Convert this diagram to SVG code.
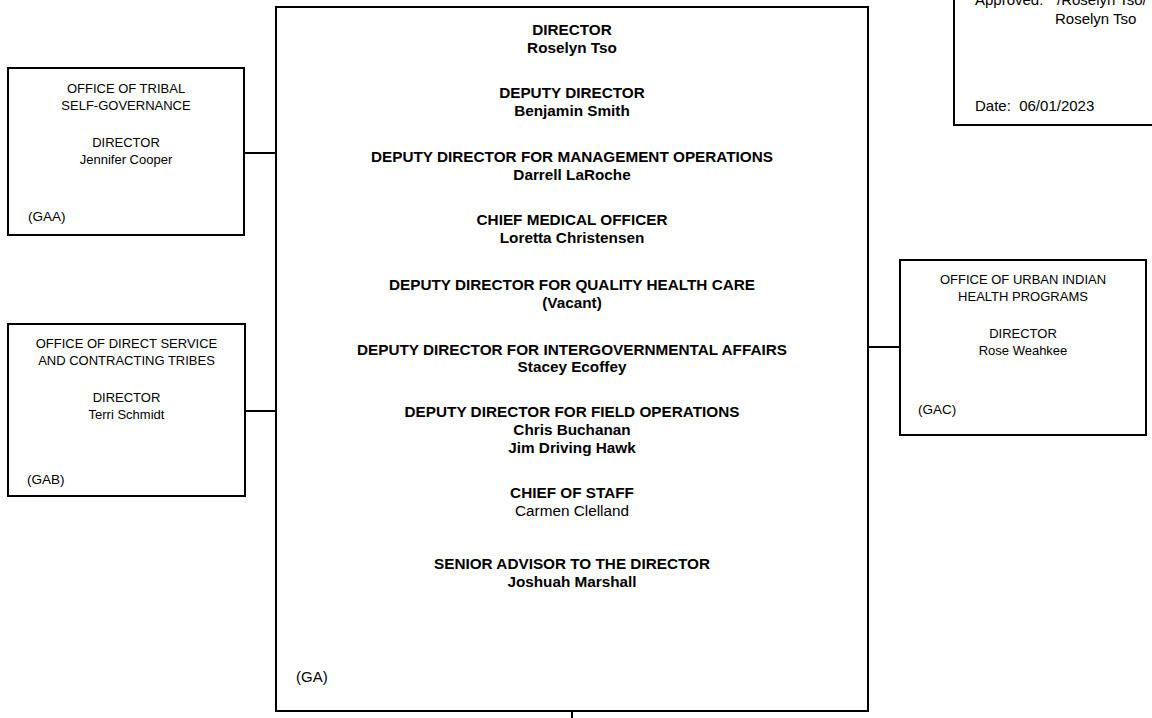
<svg xmlns="http://www.w3.org/2000/svg" width="1152" height="718" viewBox="0 0 1152 718">
<style>
.box{fill:#fff;stroke:#000;stroke-width:2}
.ln{fill:none;stroke:#000;stroke-width:2}
text{font-family:"Liberation Sans",Arial,sans-serif;fill:#000}
.m{font-size:15.3px;font-weight:bold;text-anchor:middle}
.mr{font-size:15.3px;text-anchor:middle}
.s{font-size:13px;text-anchor:middle}
.c{font-size:13.5px}
.a{font-size:15px}
</style>
<rect width="1152" height="718" fill="#fff"/>
<g id="connectors">
<line class="ln" x1="244" y1="153" x2="276" y2="153"/>
<line class="ln" x1="245" y1="411" x2="276" y2="411"/>
<line class="ln" x1="868" y1="347" x2="900" y2="347"/>
<line class="ln" x1="572" y1="711" x2="572" y2="718"/>
</g>
<g id="approval">
<rect class="box" x="954" y="-20" width="220" height="145"/>
<text class="a" x="975" y="5">Approved:</text>
<text class="a" x="1057" y="5">/Roselyn Tso/</text>
<text class="a" x="1055" y="24">Roselyn Tso</text>
<text class="a" x="975" y="111" xml:space="preserve">Date:  06/01/2023</text>
</g>
<g id="main">
<rect class="box" x="276" y="7" width="592" height="704"/>
<text class="m" x="572" y="35">DIRECTOR</text>
<text class="m" x="572" y="53">Roselyn Tso</text>
<text class="m" x="572" y="98">DEPUTY DIRECTOR</text>
<text class="m" x="572" y="116">Benjamin Smith</text>
<text class="m" x="572" y="162">DEPUTY DIRECTOR FOR MANAGEMENT OPERATIONS</text>
<text class="m" x="572" y="180">Darrell LaRoche</text>
<text class="m" x="572" y="225">CHIEF MEDICAL OFFICER</text>
<text class="m" x="572" y="243">Loretta Christensen</text>
<text class="m" x="572" y="290">DEPUTY DIRECTOR FOR QUALITY HEALTH CARE</text>
<text class="m" x="572" y="308">(Vacant)</text>
<text class="m" x="572" y="355">DEPUTY DIRECTOR FOR INTERGOVERNMENTAL AFFAIRS</text>
<text class="m" x="572" y="372">Stacey Ecoffey</text>
<text class="m" x="572" y="417">DEPUTY DIRECTOR FOR FIELD OPERATIONS</text>
<text class="m" x="572" y="435">Chris Buchanan</text>
<text class="m" x="572" y="453">Jim Driving Hawk</text>
<text class="m" x="572" y="498">CHIEF OF STAFF</text>
<text class="mr" x="572" y="516">Carmen Clelland</text>
<text class="m" x="572" y="569">SENIOR ADVISOR TO THE DIRECTOR</text>
<text class="m" x="572" y="587">Joshuah Marshall</text>
<text class="a" x="296" y="682">(GA)</text>
</g>
<g id="gaa">
<rect class="box" x="8" y="68" width="236" height="167"/>
<text class="s" x="126" y="93">OFFICE OF TRIBAL</text>
<text class="s" x="126" y="110">SELF-GOVERNANCE</text>
<text class="s" x="126" y="147">DIRECTOR</text>
<text class="s" x="126" y="164">Jennifer Cooper</text>
<text class="c" x="28" y="221">(GAA)</text>
</g>
<g id="gab">
<rect class="box" x="8" y="324" width="237" height="172"/>
<text class="s" x="126.5" y="348">OFFICE OF DIRECT SERVICE</text>
<text class="s" x="126.5" y="365">AND CONTRACTING TRIBES</text>
<text class="s" x="126.5" y="402">DIRECTOR</text>
<text class="s" x="126.5" y="419">Terri Schmidt</text>
<text class="c" x="27" y="484">(GAB)</text>
</g>
<g id="gac">
<rect class="box" x="900" y="260" width="246" height="175"/>
<text class="s" x="1023" y="284">OFFICE OF URBAN INDIAN</text>
<text class="s" x="1023" y="301">HEALTH PROGRAMS</text>
<text class="s" x="1023" y="338">DIRECTOR</text>
<text class="s" x="1023" y="355">Rose Weahkee</text>
<text class="c" x="918" y="414">(GAC)</text>
</g>
</svg>
